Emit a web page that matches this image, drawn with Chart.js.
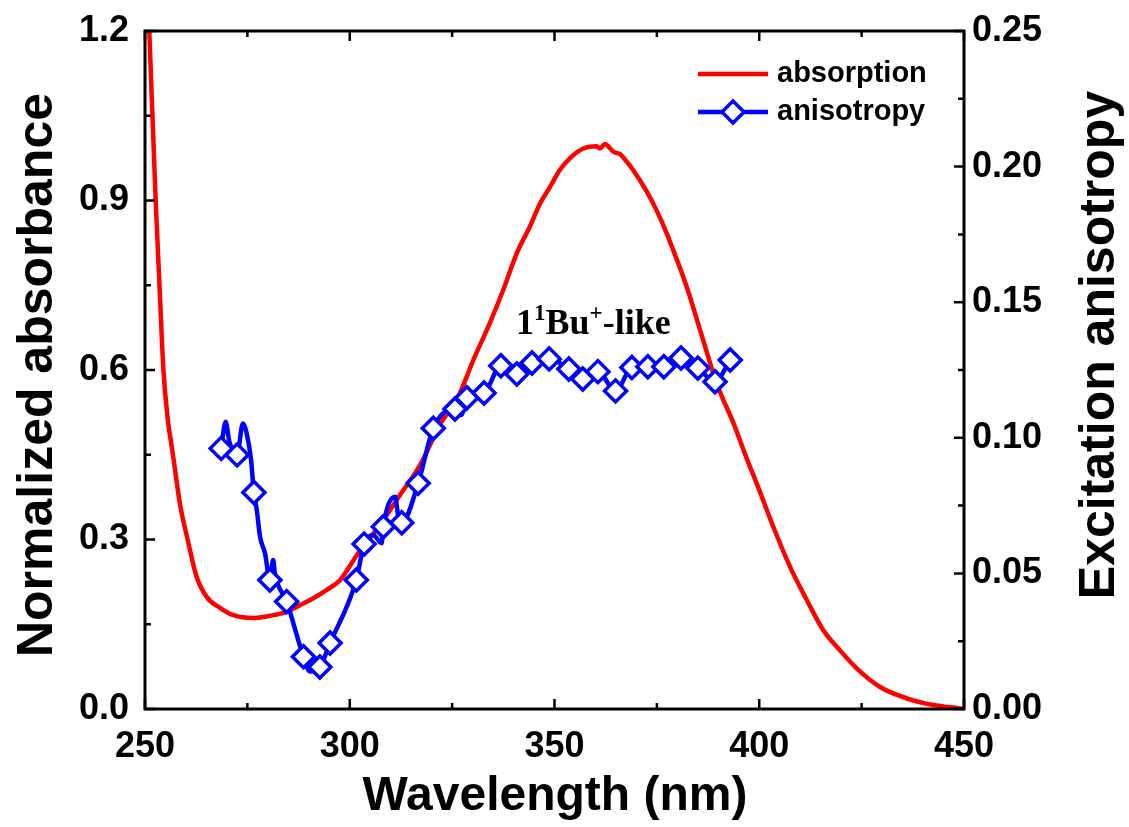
<!DOCTYPE html>
<html>
<head>
<meta charset="utf-8">
<script src="https://cdn.jsdelivr.net/npm/chart.js@4"></script>
<style>
  body { margin: 0; background: #fff; }
  #wrap { width: 1129px; height: 827px; }
</style>
</head>
<body>
<div id="wrap"><canvas id="absChart" width="1129" height="827"></canvas></div>
<script>
// absorption spectrum (normalized absorbance, left axis)
const absX = [250.3, 251.05, 252.6, 253.6, 254.5, 255.6, 256.3, 256.9, 258.5, 260.6, 262.6, 265.1, 268.3, 271.6, 276.4, 280.5,
  284.6, 287.9, 291.1, 294.4, 297.6, 301.8, 307.4, 312.3, 317.2, 322.0, 326.5, 330.2, 334.2, 337.5, 340.8, 344.0,
  346.5, 348.9, 351.3, 353.8, 357.0, 360.3, 361.1, 362.3, 364.4, 366.0, 367.6, 369.2, 372.5, 374.9, 377.4, 379.0,
  382.3, 386.3, 389.6, 393.7, 396.9, 399.4, 403.4, 407.5, 411.6, 415.6, 419.7, 423.8, 429.5, 436.0, 442.5, 449.0, 450.0];
const absY = [1.34, 1.2, 0.901, 0.74, 0.60, 0.51, 0.475, 0.446, 0.365, 0.294, 0.234, 0.198, 0.179, 0.166, 0.161, 0.165,
  0.172, 0.184, 0.196, 0.211, 0.228, 0.273, 0.326, 0.379, 0.432, 0.503, 0.553, 0.618, 0.683, 0.742, 0.807, 0.854,
  0.895, 0.924, 0.954, 0.975, 0.992, 0.996, 0.992, 1.0, 0.986, 0.982, 0.969, 0.954, 0.916, 0.883, 0.842, 0.812,
  0.747, 0.653, 0.576, 0.506, 0.444, 0.399, 0.323, 0.252, 0.193, 0.140, 0.104, 0.072, 0.039, 0.019, 0.007, 0.001, 0.0];

// excitation anisotropy (right axis)
const anisoX = [268.6, 269.7, 270.6, 272.5, 273.9, 275.0, 275.9, 276.6, 277.3, 278.1, 279.3, 280.5, 281.3, 281.7,
  284.6, 288.7, 290.3, 292.7, 295.2, 301.6, 303.5, 305.7, 307.8, 308.2, 311.1, 311.8, 312.7, 316.7, 320.4, 325.7,
  327.2, 328.6, 332.8, 336.9, 340.8, 344.5, 348.7, 353.5, 356.9, 360.6, 364.9, 368.9, 372.8, 376.7, 380.9, 385.0,
  389.2, 392.9];
const anisoY = [0.0961, 0.1059, 0.0986, 0.0937, 0.1053, 0.1004, 0.0918, 0.0798, 0.0734, 0.0635, 0.0574, 0.0476, 0.0549, 0.0501,
  0.0396, 0.0193, 0.0138, 0.0155, 0.0243, 0.0476, 0.0608, 0.0642, 0.0611, 0.0672, 0.0783, 0.0715, 0.0687, 0.0832, 0.1035, 0.1106,
  0.1084, 0.1148, 0.1165, 0.1266, 0.1235, 0.1276, 0.1291, 0.1254, 0.1217, 0.1244, 0.1173, 0.1259, 0.1262, 0.1262, 0.1294, 0.1257,
  0.1207, 0.1287];
// points of the anisotropy trace that carry a symbol
const anisoSymbols = [0, 3, 7, 11, 14, 15, 17, 18, 19, 20, 23, 26, 27, 28, 29, 31, 32, 33, 34, 35, 36, 37, 38, 39,
  40, 41, 42, 43, 44, 45, 46, 47];

const xTitle = 'Wavelength (nm)';
const yTitle = 'Normalized absorbance';
const y2Title = 'Excitation anisotropy';
const seriesNames = ['absorption', 'anisotropy'];

const RED = '#ff0000';
const BLUE = '#0000ff';
const SANS = '"Liberation Sans", Arial, sans-serif';
const SERIF = '"Liberation Serif", "Times New Roman", serif';

const symbolSet = new Set(anisoSymbols);

// frame, inward ticks, titles, legend and band label
const decorPlugin = {
  id: 'decor',
  afterDatasetsDraw(chart) {
    const ctx = chart.ctx;
    const a = chart.chartArea;
    const sx = chart.scales.x, sy = chart.scales.y, sy2 = chart.scales.y2;
    ctx.save();
    ctx.strokeStyle = '#000';
    ctx.lineWidth = 3;
    ctx.strokeRect(a.left, a.top, a.right - a.left, a.bottom - a.top);

    ctx.lineWidth = 2.5;
    ctx.beginPath();
    for (let v = 250; v <= 450; v += 25) {
      const p = sx.getPixelForValue(v);
      const len = (v % 50 === 0) ? 10 : 6;
      ctx.moveTo(p, a.bottom); ctx.lineTo(p, a.bottom - len);
      ctx.moveTo(p, a.top); ctx.lineTo(p, a.top + len);
    }
    for (let i = 0; i <= 8; i++) {
      const p = sy.getPixelForValue(i * 0.15);
      const len = (i % 2 === 0) ? 10 : 6;
      ctx.moveTo(a.left, p); ctx.lineTo(a.left + len, p);
    }
    for (let i = 0; i <= 10; i++) {
      const p = sy2.getPixelForValue(i * 0.025);
      const len = (i % 2 === 0) ? 10 : 6;
      ctx.moveTo(a.right, p); ctx.lineTo(a.right - len, p);
    }
    ctx.stroke();

    // legend
    ctx.lineWidth = 4.5;
    ctx.strokeStyle = RED;
    ctx.beginPath(); ctx.moveTo(698, 74); ctx.lineTo(768, 74); ctx.stroke();
    ctx.strokeStyle = BLUE;
    ctx.beginPath(); ctx.moveTo(698, 112); ctx.lineTo(768, 112); ctx.stroke();
    ctx.fillStyle = '#fff';
    ctx.lineWidth = 3.5;
    ctx.beginPath();
    ctx.moveTo(733, 101); ctx.lineTo(744, 112); ctx.lineTo(733, 123); ctx.lineTo(722, 112); ctx.closePath();
    ctx.fill(); ctx.stroke();
    ctx.fillStyle = '#000';
    ctx.font = 'bold 29px ' + SANS;
    ctx.textBaseline = 'middle';
    ctx.textAlign = 'left';
    ctx.fillText(seriesNames[0], 777, 74);
    ctx.fillText(seriesNames[1], 777, 112);

    // band label 1¹Bu⁺-like
    ctx.textBaseline = 'alphabetic';
    let x = 516;
    const base = 334;
    const parts = [['1', 36, 0], ['1', 23, -14], ['Bu', 36, 0], ['+', 23, -14], ['-like', 36, 0]];
    parts.forEach(([t, size, dy]) => {
      ctx.font = 'bold ' + size + 'px ' + SERIF;
      ctx.fillText(t, x, base + dy);
      x += ctx.measureText(t).width;
    });

    // axis titles
    ctx.font = 'bold 48px ' + SANS;
    ctx.textAlign = 'center';
    ctx.textBaseline = 'middle';
    ctx.fillText(xTitle, 555, 797);
    ctx.font = 'bold 50px ' + SANS;
    ctx.save();
    ctx.translate(38, 375);
    ctx.rotate(-Math.PI / 2);
    ctx.fillText(yTitle, 0, 0);
    ctx.restore();
    ctx.save();
    ctx.translate(1100, 345);
    ctx.rotate(-Math.PI / 2);
    ctx.fillText(y2Title, 0, 0);
    ctx.restore();
    ctx.restore();
  }
};

const tickFont = { family: SANS, size: 36, weight: 'bold' };

new Chart(document.getElementById('absChart'), {
  type: 'line',
  data: {
    datasets: [
      {
        label: seriesNames[0],
        data: absX.map((x, i) => ({ x: x, y: absY[i] })),
        borderColor: RED,
        borderWidth: 4.5,
        pointRadius: 0,
        cubicInterpolationMode: 'monotone',
        yAxisID: 'y',
        order: 1
      },
      {
        label: seriesNames[1],
        data: anisoX.map((x, i) => ({ x: x, y: anisoY[i] })),
        borderColor: BLUE,
        borderWidth: 4.5,
        pointStyle: 'rectRot',
        pointRadius: ctx => symbolSet.has(ctx.dataIndex) ? 11 : 0,
        pointBorderWidth: 3.5,
        pointBorderColor: BLUE,
        pointBackgroundColor: '#fff',
        cubicInterpolationMode: 'monotone',
        yAxisID: 'y2',
        order: 0
      }
    ]
  },
  options: {
    responsive: false,
    animation: false,
    layout: { padding: { top: 31, left: 0, right: 0, bottom: 0 } },
    plugins: { legend: { display: false }, tooltip: { enabled: false } },
    scales: {
      x: {
        type: 'linear',
        position: 'bottom',
        min: 250, max: 450,
        grid: { display: false },
        border: { display: false },
        ticks: { stepSize: 50, color: '#000', font: tickFont, padding: 8, maxRotation: 0 },
        afterFit: s => { s.height = 118; }
      },
      y: {
        position: 'left',
        min: 0, max: 1.2,
        grid: { display: false },
        border: { display: false },
        ticks: { stepSize: 0.3, color: '#000', font: tickFont, padding: 8, callback: v => v.toFixed(1) },
        afterFit: s => { s.width = 145; }
      },
      y2: {
        position: 'right',
        min: 0, max: 0.25,
        grid: { display: false },
        border: { display: false },
        ticks: { stepSize: 0.05, color: '#000', font: tickFont, padding: 0, callback: v => v.toFixed(2) },
        afterFit: s => { s.width = 165; }
      }
    }
  },
  plugins: [decorPlugin]
});
</script>
</body>
</html>
